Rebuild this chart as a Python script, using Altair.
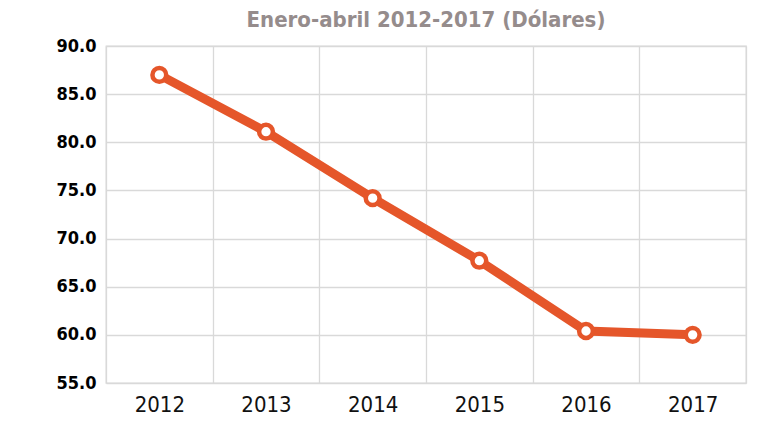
import altair as alt
import pandas as pd

years = ["2012", "2013", "2014", "2015", "2016", "2017"]
values = [87.0, 81.1, 74.2, 67.7, 60.4, 60.0]
y_ticks = [55, 60, 65, 70, 75, 80, 85, 90]

df = pd.DataFrame({"year": years, "value": values})
color = "#E5562A"
cond = "'DejaVu Sans Condensed', 'Liberation Sans Narrow', 'Noto Sans', sans-serif"

x = alt.X("year:O", title=None, sort=years,
          scale=alt.Scale(paddingInner=0, paddingOuter=0),
          axis=alt.Axis(labelAngle=0, tickBand="extent", grid=True, gridColor="#d9d9d9",
                        gridWidth=1.3, domain=False, ticks=False, labelPadding=11,
                        labelFont=cond, labelFontSize=22, labelFontWeight="normal",
                        labelColor="#111111"))
y = alt.Y("value:Q", title=None,
          scale=alt.Scale(domain=[55, 90], nice=False, zero=False),
          axis=alt.Axis(values=y_ticks, format=".1f", grid=True, gridColor="#d9d9d9",
                        gridWidth=1.3, domain=False, ticks=False, labelPadding=10,
                        labelFont=cond, labelFontSize=18,
                        labelFontWeight="bold", labelColor="#000000"))

base = alt.Chart(df).encode(x=x, y=y)
line = base.mark_line(color=color, strokeWidth=9)
pts = base.mark_point(shape="circle", filled=True, fill="white", stroke=color,
                      strokeWidth=4.5, size=190, opacity=1)

chart = (line + pts).properties(
    width=640, height=337,
    title=alt.Title("Enero-abril 2012-2017 (Dólares)", font=cond,
                    fontSize=22, fontWeight="bold", color="#958c8c", anchor="middle",
                    offset=5),
    autosize=alt.AutoSizeParams(type="none"),
    padding={"left": 98, "top": 38, "right": 4, "bottom": 50},
).configure_view(stroke="#d9d9d9", strokeWidth=1.3)

chart.save("out.html", embed_options={"renderer": "svg", "actions": False})
